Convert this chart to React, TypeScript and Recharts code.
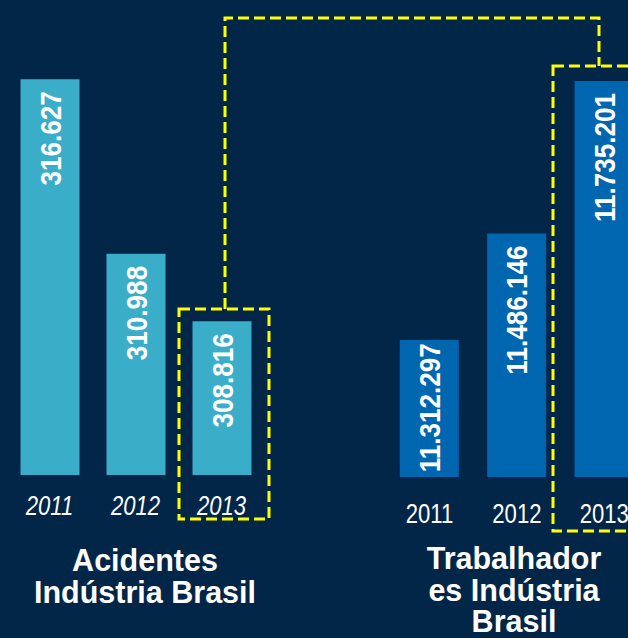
import React from 'react';
import { BarChart, Bar, XAxis, YAxis, LabelList } from 'recharts';

const acidentesYears = ['2011', '2012', '2013'];
const acidentesValues = [316627, 310988, 308816];
const trabalhadoresYears = ['2011', '2012', '2013'];
const trabalhadoresValues = [11312297, 11486146, 11735201];

const acidentesData = acidentesYears.map((year, i) => ({ year, value: acidentesValues[i] }));
const trabalhadoresData = trabalhadoresYears.map((year, i) => ({ year, value: trabalhadoresValues[i] }));

const BG = '#012648';
const LIGHT = '#3aaec8';
const DARK = '#0066b0';
const YELLOW = '#ffff00';
const SANS = '"Liberation Sans", Arial, sans-serif';

const fmt = (v: number) => String(v).replace(/\B(?=(\d{3})+(?!\d))/g, '.');

const LABEL_SIZE = 30;
const LABEL_SCALE = 0.87;

const renderLabel = (props: any) => {
  const { x, y, width, height, value } = props;
  const text = fmt(Number(value));
  const estLen =
    text.split('').reduce((s, c) => s + (c === '.' ? 0.278 : 0.556), 0) * LABEL_SIZE * LABEL_SCALE;
  const offset = Math.min(12, Math.max(1, (height - estLen) / 2));
  const bx = x + width / 2 + 0.358 * LABEL_SIZE;
  const by = y + offset;
  return (
    <text
      x={0}
      y={0}
      transform={`translate(${bx},${by}) rotate(-90) scale(${LABEL_SCALE},1)`}
      textAnchor="end"
      fill="#ffffff"
      fontFamily={SANS}
      fontWeight="bold"
      fontSize={LABEL_SIZE}
    >
      {text}
    </text>
  );
};

const makeTick = (italic: boolean, dy: number) => (props: any) => {
  const { x, y, payload } = props;
  return (
    <text
      x={0}
      y={0}
      transform={`translate(${x},${y + dy}) scale(0.82,1)`}
      textAnchor="middle"
      fill="#ffffff"
      fontFamily={SANS}
      fontStyle={italic ? 'italic' : 'normal'}
      fontSize={27}
    >
      {payload.value}
    </text>
  );
};

export default function App() {
  return (
    <div
      style={{
        position: 'absolute',
        left: 0,
        top: 0,
        width: 628,
        height: 638,
        background: BG,
        overflow: 'hidden',
      }}
    >
      <div style={{ position: 'absolute', left: 0, top: 0 }}>
        <BarChart
          width={270}
          height={535}
          data={acidentesData}
          margin={{ top: 67.6, right: 5.5, bottom: 0, left: 6.5 }}
        >
          <XAxis
            dataKey="year"
            axisLine={false}
            tickLine={false}
            tickSize={0}
            tickMargin={0}
            height={60}
            interval={0}
            tick={makeTick(true, 40)}
          />
          <YAxis hide domain={[303850, 317000]} allowDataOverflow />
          <Bar dataKey="value" fill={LIGHT} barSize={59} isAnimationActive={false}>
            <LabelList dataKey="value" content={renderLabel} />
          </Bar>
        </BarChart>
      </div>
      <div style={{ position: 'absolute', left: 380, top: 0 }}>
        <BarChart
          width={268}
          height={537}
          data={trabalhadoresData}
          margin={{ top: 71.9, right: 0, bottom: 0, left: 5.75 }}
        >
          <XAxis
            dataKey="year"
            axisLine={false}
            tickLine={false}
            tickSize={0}
            tickMargin={0}
            height={60}
            interval={0}
            tick={makeTick(false, 46)}
          />
          <YAxis hide domain={[11088600, 11750000]} allowDataOverflow />
          <Bar dataKey="value" fill={DARK} barSize={59} isAnimationActive={false}>
            <LabelList dataKey="value" content={renderLabel} />
          </Bar>
        </BarChart>
      </div>
      <svg
        width={628}
        height={638}
        style={{ position: 'absolute', left: 0, top: 0, pointerEvents: 'none' }}
      >
        <g fill="none" stroke={YELLOW} strokeWidth={3} strokeDasharray="11 5">
          <rect x={179} y={309} width={90} height={210} />
          <polyline points="225,309 225,18 599,18 599,66" />
          <rect x={553} y={66} width={100} height={465} />
        </g>
        <g fill="#ffffff" fontFamily={SANS} fontWeight="bold" fontSize={30.5} textAnchor="middle">
          <text x={145} y={571}>Acidentes</text>
          <text x={145} y={603}>Indústria Brasil</text>
          <text x={514} y={569}>Trabalhador</text>
          <text x={514} y={601}>es Indústria</text>
          <text x={514} y={632}>Brasil</text>
        </g>
      </svg>
    </div>
  );
}
